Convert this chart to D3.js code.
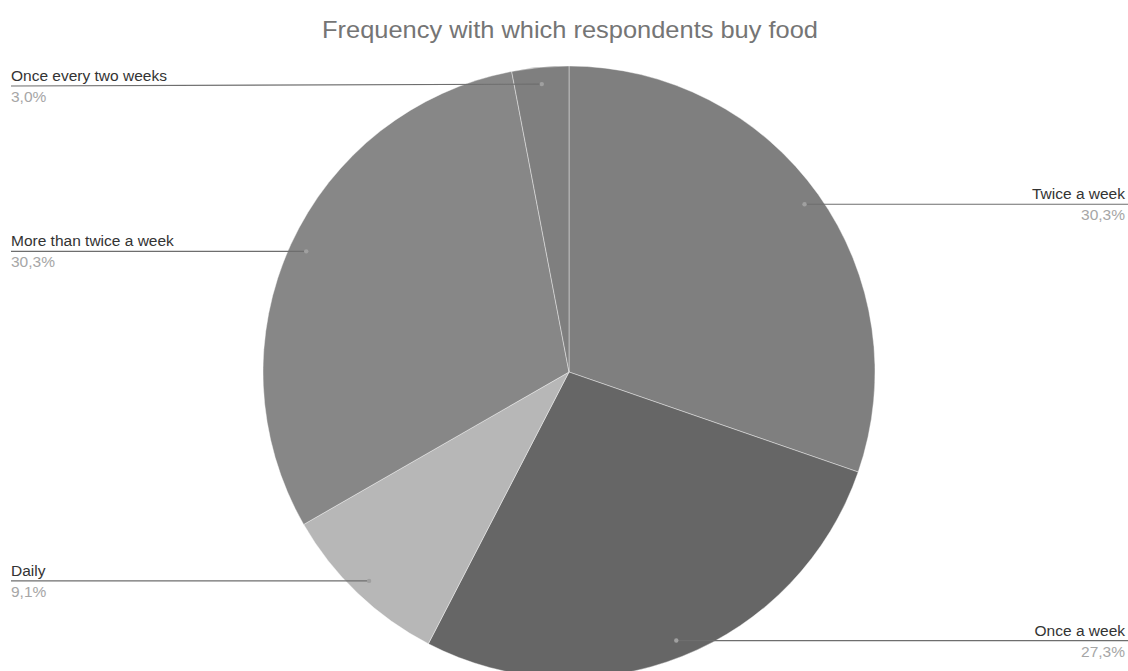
<!DOCTYPE html>
<html><head><meta charset="utf-8">
<script src="https://cdn.jsdelivr.net/npm/d3@7"></script>
<style>body{margin:0;background:#fff}svg{display:block;font-family:"Liberation Sans",Arial,sans-serif}</style>
</head><body>
<svg id="c" width="1128" height="671"></svg>
<script>
const categories = ["Twice a week","Once a week","Daily","More than twice a week","Once every two weeks"];
const values = [30.3, 27.3, 9.1, 30.3, 3.0];
const percentLabels = ["30,3%","27,3%","9,1%","30,3%","3,0%"];
const colors = ["#7f7f7f","#666666","#b7b7b7","#878787","#7f7f7f"];
const title = "Frequency with which respondents buy food";

const W = 1128, H = 671;
const cx = 569, cy = 372, R = 306;
const svg = d3.select("#c");

svg.append("text").attr("x", 570).attr("y", 38).attr("text-anchor","middle")
  .attr("fill","#757575").attr("font-size", 24).attr("textLength", 496).attr("lengthAdjust","spacingAndGlyphs").text(title);

const data = categories.map((c,i)=>({name:c, value:values[i], pct:percentLabels[i], color:colors[i]}));
const pie = d3.pie().value(d=>d.value).sort(null);
const arcs = pie(data);
const arc = d3.arc().innerRadius(0).outerRadius(R);
const dotArc = d3.arc().innerRadius(R*0.945).outerRadius(R*0.945);

const g = svg.append("g").attr("transform",`translate(${cx},${cy})`);
g.selectAll("path").data(arcs).join("path")
  .attr("d", arc).attr("fill", d=>d.data.color)
  .attr("stroke","#ffffff").attr("stroke-opacity",0.4).attr("stroke-width",1);

const lab = svg.append("g");
arcs.forEach(a=>{
  const [dx,dy] = dotArc.centroid(a);
  const px = cx+dx, py = cy+dy;
  const mid = (a.startAngle+a.endAngle)/2;
  const right = mid < Math.PI;
  const ly = Math.max(py, 86);
  const lx = right ? W : 11;
  lab.append("line").attr("x1",px).attr("y1",py).attr("x2",lx).attr("y2",ly)
    .attr("stroke","#6e6e6e").attr("stroke-width",1.2);
  lab.append("circle").attr("cx",px).attr("cy",py).attr("r",2.2).attr("fill","#a0a0a0");
  const tx = right ? 1125 : 11;
  const anchor = right ? "end" : "start";
  lab.append("text").attr("x",tx).attr("y",ly-5).attr("text-anchor",anchor)
    .attr("font-size",15.5).attr("fill","#333").text(a.data.name);
  lab.append("text").attr("x",tx).attr("y",ly+16).attr("text-anchor",anchor)
    .attr("font-size",15.5).attr("fill","#a6a6a6").text(a.data.pct);
});
</script>
</body></html>
